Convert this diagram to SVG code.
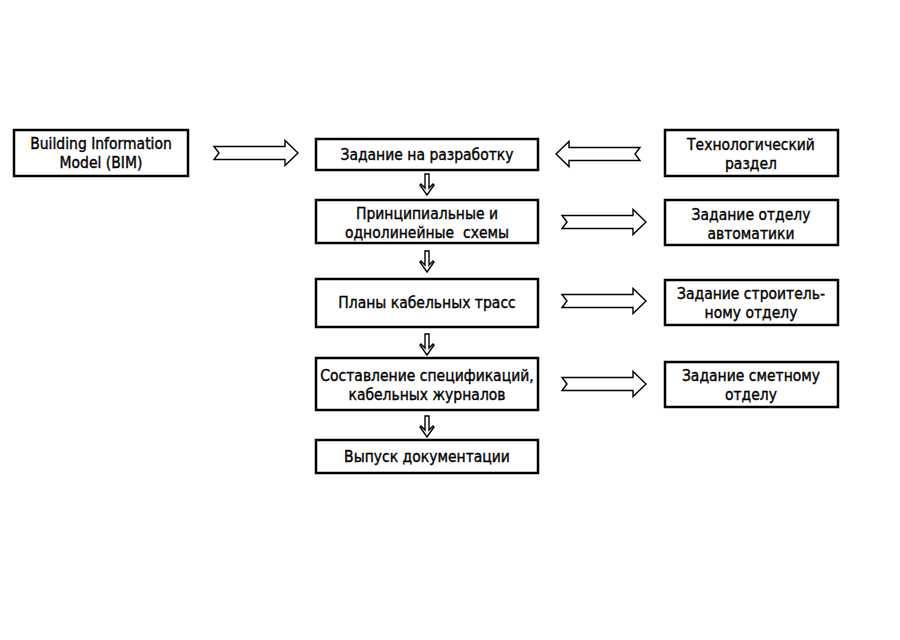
<svg xmlns="http://www.w3.org/2000/svg" width="900" height="640" viewBox="0 0 900 640">
<style>
.box{fill:#fff;stroke:#000;stroke-width:2.5}
.t{font-family:"DejaVu Sans Condensed","Liberation Sans Narrow","Liberation Sans",sans-serif;font-stretch:condensed;font-size:15.5px;fill:#000;stroke:#000;stroke-width:0.35;text-anchor:middle;white-space:pre}
.ar{fill:#fff;stroke:#000;stroke-width:1.4;stroke-linejoin:miter}
</style>
<defs>
<path id="rarr" class="ar" d="M0,-6.5 L71,-6.5 L71,-12.5 L84,0 L71,12.5 L71,6.5 L0,6.5 L5,0 Z"/>
<path id="darr" class="ar" d="M-2,0 L2,0 L2,14 L6,10 L7,11 L0,21 L-7,11 L-6,10 L-2,14 Z"/>
</defs>
<rect width="900" height="640" fill="#fff"/>
<g id="connectors">
<use href="#rarr" x="214" y="153"/>
<use href="#rarr" transform="translate(640,154) scale(-1,1)"/>
<use href="#rarr" x="562" y="222"/>
<use href="#rarr" x="562" y="301"/>
<use href="#rarr" x="562" y="384"/>
<use href="#darr" x="427" y="174"/>
<use href="#darr" x="427" y="251"/>
<use href="#darr" x="427" y="334"/>
<use href="#darr" x="427" y="416"/>
</g>
<g id="bim"><rect class="box" x="14" y="130" width="174" height="46"/><text class="t" x="101" y="149">Building Information</text><text class="t" x="101" y="168">Model (BIM)</text></g>
<g id="zadanie"><rect class="box" x="316" y="139" width="222" height="31"/><text class="t" x="427" y="160">Задание на разработку</text></g>
<g id="principal"><rect class="box" x="316" y="200" width="222" height="43"/><text class="t" x="427" y="219">Принципиальные и</text><text class="t" x="427" y="238">однолинейные  схемы</text></g>
<g id="plany"><rect class="box" x="316" y="279" width="222" height="48"/><text class="t" x="427" y="308">Планы кабельных трасс</text></g>
<g id="sostavlenie"><rect class="box" x="316" y="358" width="222" height="52"/><text class="t" x="427" y="381">Составление спецификаций,</text><text class="t" x="427" y="400">кабельных журналов</text></g>
<g id="vypusk"><rect class="box" x="316" y="440" width="222" height="33"/><text class="t" x="427" y="462">Выпуск документации</text></g>
<g id="tech"><rect class="box" x="665" y="130" width="173" height="46"/><text class="t" x="751" y="150">Технологический</text><text class="t" x="751" y="169">раздел</text></g>
<g id="auto"><rect class="box" x="665" y="200" width="173" height="45"/><text class="t" x="751" y="220">Задание отделу</text><text class="t" x="751" y="239">автоматики</text></g>
<g id="stroit"><rect class="box" x="665" y="280" width="173" height="45"/><text class="t" x="751" y="299">Задание строитель-</text><text class="t" x="751" y="318">ному отделу</text></g>
<g id="smet"><rect class="box" x="665" y="362" width="173" height="45"/><text class="t" x="751" y="381">Задание сметному</text><text class="t" x="751" y="400">отделу</text></g>
</svg>
